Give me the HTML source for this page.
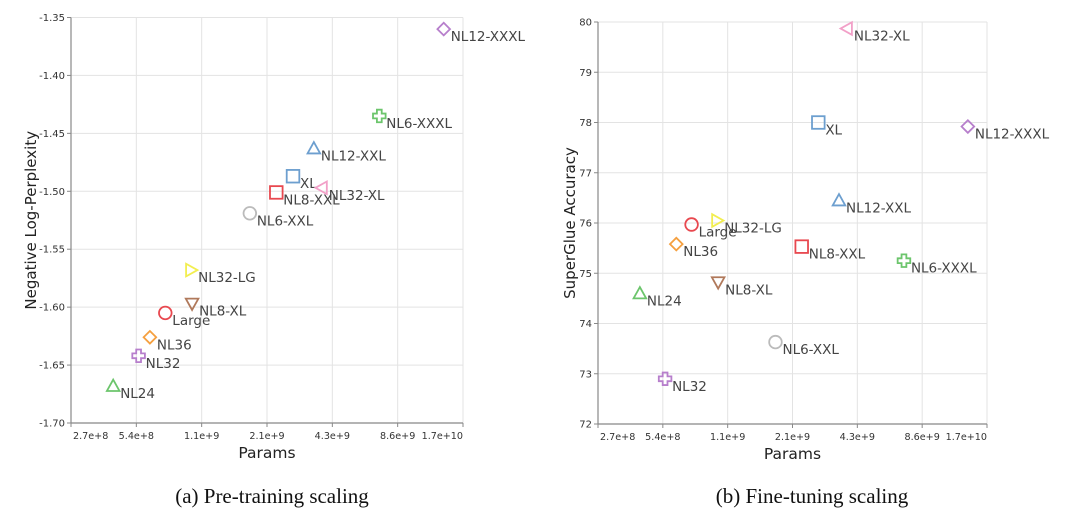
<!DOCTYPE html>
<html><head><meta charset="utf-8"><style>
body{margin:0;background:#fff;width:1080px;height:522px;overflow:hidden}
svg{display:block}
text{font-family:"DejaVu Sans","Liberation Sans",sans-serif}
</style></head><body>
<svg id="s" width="1080" height="522" viewBox="0 0 1080 522">
<text x="272" y="503" text-anchor="middle" style="font-family:'Liberation Serif',serif;font-size:21px" fill="#111">(a) Pre-training scaling</text>
<text x="812" y="503" text-anchor="middle" style="font-family:'Liberation Serif',serif;font-size:21px" fill="#111">(b) Fine-tuning scaling</text>
</svg>
<script>
const names=["NL12-XXXL","NL6-XXXL","NL12-XXL","XL","NL32-XL","NL8-XXL","NL6-XXL","NL32-LG","NL8-XL","Large","NL36","NL32","NL24"];
const params=[1.40e10,7.07e9,3.53e9,2.83e9,3.84e9,2.37e9,1.79e9,9.6e8,9.7e8,7.3e8,6.2e8,5.5e8,4.2e8];
const pretrain=[-1.36,-1.435,-1.463,-1.487,-1.497,-1.501,-1.519,-1.568,-1.597,-1.605,-1.626,-1.642,-1.668];
const finetune=[77.92,75.25,76.45,78.0,79.87,75.53,73.63,76.05,74.82,75.97,75.58,72.9,74.6];
const shapes=["diamond","cross","triUp","square","triLeft","square","circle","triRight","triDown","circle","diamond","cross","triUp"];
const colors=["#b77fcc","#6cc56c","#6d9fcf","#6d9fcf","#f2a0c8","#e8484f","#bbbbbb","#f2ee50","#b0795b","#e8484f","#f5a040","#b77fcc","#6cc56c"];
const xTicks=["2.7e+8","5.4e+8","1.1e+9","2.1e+9","4.3e+9","8.6e+9","1.7e+10"];
const yTicksA=["-1.35","-1.40","-1.45","-1.50","-1.55","-1.60","-1.65","-1.70"];
const yTicksB=["80","79","78","77","76","75","74","73","72"];
const NS="http://www.w3.org/2000/svg";
const svg=document.getElementById('s');
function mk(tag,attrs,parent){const e=document.createElementNS(NS,tag);for(const k in attrs)e.setAttribute(k,attrs[k]);(parent||svg).appendChild(e);return e;}
function chart(cfg){
  const g=mk('g',{});
  
  
  const {L,R,T,B,ymin,ymax}=cfg;
  const base=Math.pow(2,28);
  const xs=p=>L+(Math.log2(p/base))/6*(R-L);
  const ys=v=>B-(v-ymin)/(ymax-ymin)*(B-T);
  xTicks.forEach((t,i)=>{
    const x=L+i/6*(R-L);
    const gl=mk('line',{x1:x,x2:x,y1:T,y2:B,stroke:'#e3e3e3','stroke-width':1},g);
    
    
    mk('line',{x1:x,x2:x,y1:B,y2:B+4,stroke:'#888'},g);
    let anchor=i==0?'start':(i==6?'end':'middle');
    const tx=mk('text',{x:x+(i==0?2:0),y:B+16,'text-anchor':anchor,'font-size':'9.6',fill:'#333'},g);
    tx.textContent=t;
    
    
  });
  cfg.yt.forEach(t=>{
    const v=parseFloat(t),y=ys(v);
    const gl=mk('line',{x1:L,x2:R,y1:y,y2:y,stroke:'#e3e3e3'},g);
    
    
    mk('line',{x1:L-4,x2:L,y1:y,y2:y,stroke:'#888'},g);
    const tx=mk('text',{x:L-6,y:y+3.5,'text-anchor':'end','font-size':'10',fill:'#333'},g);
    tx.textContent=t;
    
    
  });
  mk('line',{x1:L,x2:L,y1:T,y2:B,stroke:'#888','stroke-width':1.2},g);
  mk('line',{x1:L,x2:R,y1:B,y2:B,stroke:'#888','stroke-width':1.2},g);
  const xt=mk('text',{x:(L+R)/2,y:B+35,'text-anchor':'middle','font-size':'15.5',fill:'#222'},g);
  xt.textContent='Params';
  
  
  const yt=mk('text',{x:0,y:0,'text-anchor':'middle','font-size':'15',fill:'#222',transform:`translate(${cfg.ytx},${(T+B)/2}) rotate(-90)`},g);
  yt.textContent=cfg.ytitle;
  
  
  names.forEach((n,i)=>{
    const x=xs(params[i]),y=ys(cfg.vals[i]),c=colors[i],s=6.3;
    let el,a={fill:'none',stroke:c,'stroke-width':1.8};
    switch(shapes[i]){
      case 'circle':el=mk('circle',Object.assign({cx:x,cy:y,r:s},a),g);break;
      case 'square':el=mk('rect',Object.assign({x:x-s,y:y-s,width:2*s,height:2*s},a),g);break;
      case 'diamond':el=mk('polygon',Object.assign({points:`${x},${y-s} ${x+s},${y} ${x},${y+s} ${x-s},${y}`},a),g);break;
      case 'triUp':el=mk('polygon',Object.assign({points:`${x},${y-s} ${x+s},${y+s*0.8} ${x-s},${y+s*0.8}`},a),g);break;
      case 'triDown':el=mk('polygon',Object.assign({points:`${x},${y+s} ${x+s},${y-s*0.8} ${x-s},${y-s*0.8}`},a),g);break;
      case 'triLeft':el=mk('polygon',Object.assign({points:`${x-s},${y} ${x+s*0.8},${y-s} ${x+s*0.8},${y+s}`},a),g);break;
      case 'triRight':el=mk('polygon',Object.assign({points:`${x+s},${y} ${x-s*0.8},${y-s} ${x-s*0.8},${y+s}`},a),g);break;
      case 'cross':{const w=2.4;el=mk('polygon',Object.assign({points:`${x-w},${y-s} ${x+w},${y-s} ${x+w},${y-w} ${x+s},${y-w} ${x+s},${y+w} ${x+w},${y+w} ${x+w},${y+s} ${x-w},${y+s} ${x-w},${y+w} ${x-s},${y+w} ${x-s},${y-w} ${x-w},${y-w}`},a),g);break;}
    }
    
    
    const lb=mk('text',{x:x+7,y:y+12,'font-size':'13.5',fill:'#444'},g);
    lb.textContent=n;
    
    
  });
}
chart({name:'pretraining-chart',L:71,R:463,T:17.5,B:423,ymin:-1.70,ymax:-1.35,yt:yTicksA,vals:pretrain,ytitle:'Negative Log-Perplexity',ytx:36});
chart({name:'finetuning-chart',L:598,R:987,T:22,B:424,ymin:72,ymax:80,yt:yTicksB,vals:finetune,ytitle:'SuperGlue Accuracy',ytx:575});
</script>
</body></html>
